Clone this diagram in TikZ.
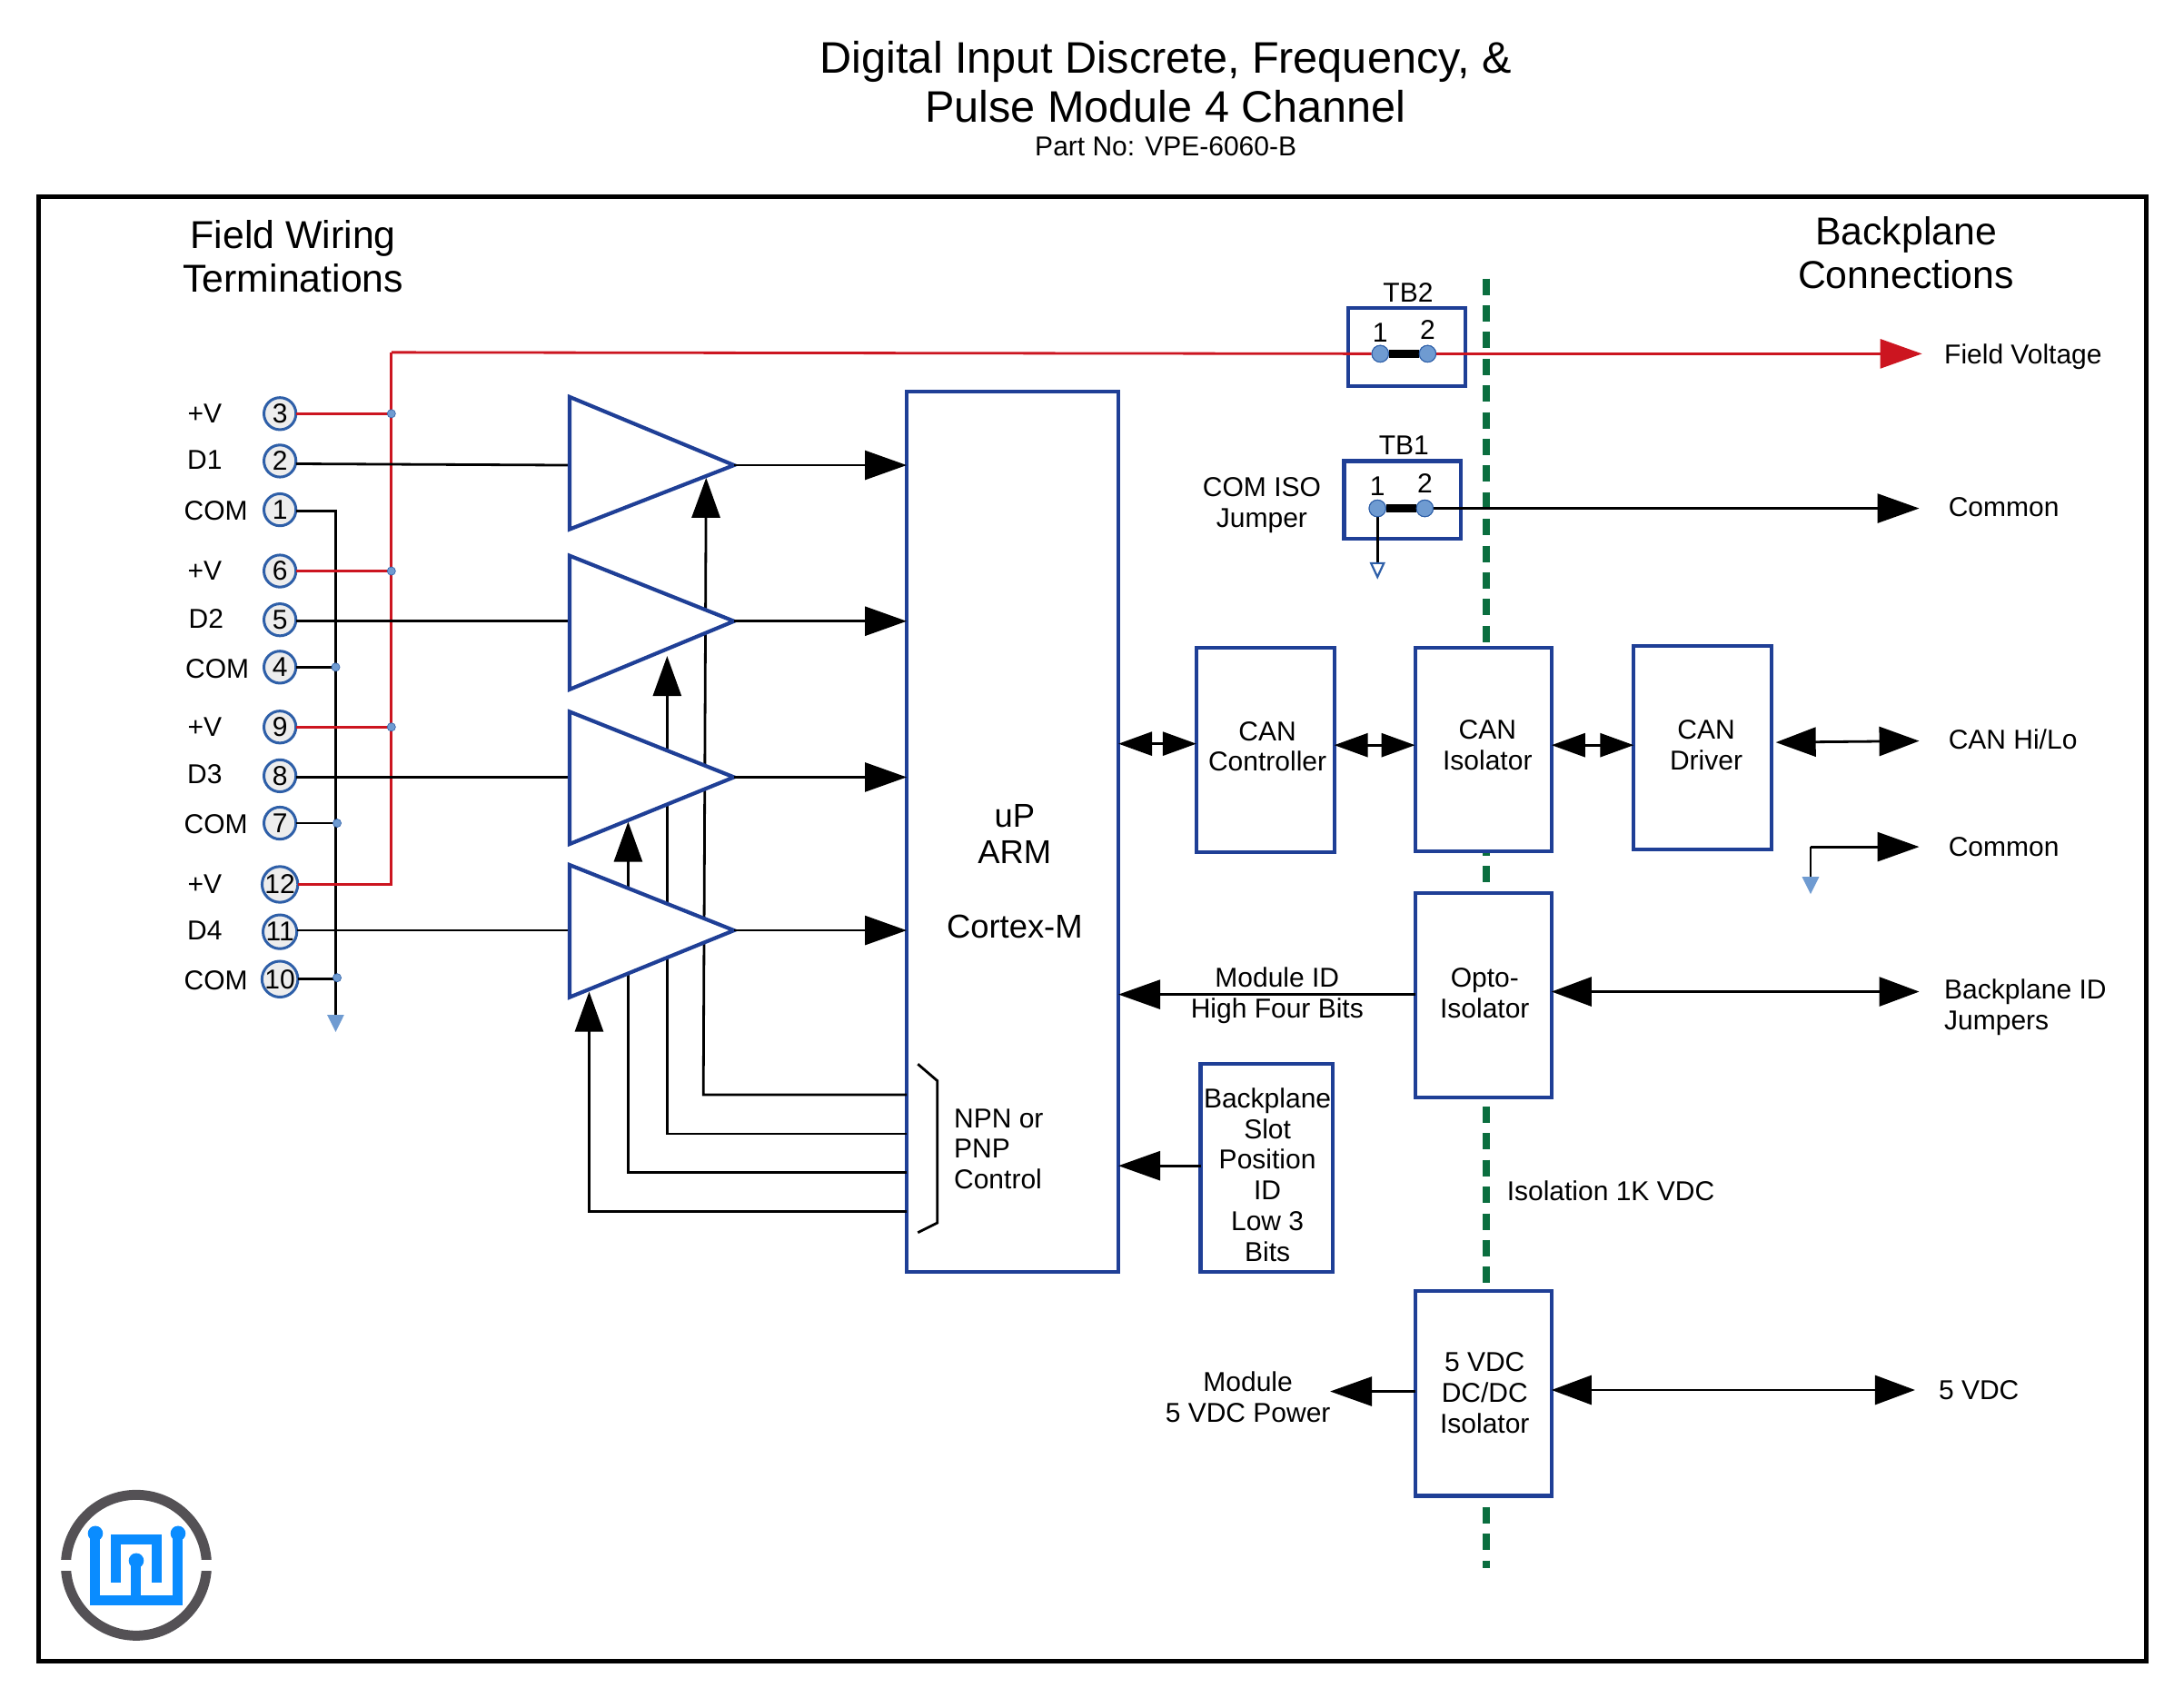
\documentclass[tikz,border=0pt]{standalone}
\usepackage{fontspec}
\setmainfont{Liberation Sans}
\usetikzlibrary{arrows.meta,calc}
\definecolor{bxblue}{HTML}{1F3F96}
\definecolor{ringblue}{HTML}{2E5FA8}
\definecolor{dotblue}{HTML}{6F9BD1}
\definecolor{wirered}{HTML}{CC1520}
\definecolor{isogreen}{HTML}{0B6E3F}
\definecolor{logogray}{HTML}{545155}
\definecolor{logoblue}{HTML}{0A8CFF}
\def\uu{0.7666pt}
\newcommand{\bxat}[5]{\node[bx,minimum width={(#4-#2)*\uu},minimum height={(#5-#3)*\uu}] (#1) at ({(#2+#4)/2},{(#3+#5)/2}) {};}
\tikzset{
  fsn/.style={font=\fontsize{15pt}{16.9pt}\selectfont},
  lbl/.style={inner sep=0pt,outer sep=0pt,align=center,fsn},
  lbll/.style={inner sep=0pt,outer sep=0pt,align=left,anchor=west,fsn},
  bx/.style={draw=bxblue,fill=white,line width=2.1pt,inner sep=0pt,outer sep=0pt,rectangle},
  amp/.style={draw=bxblue,fill=white,line width=2.1pt,line join=miter},
  termc/.style={circle,draw=ringblue,fill=black!7,line width=1.5pt,minimum size={23*\uu},inner sep=0pt,outer sep=0pt,fsn},
  dotb/.style={circle,fill=dotblue,draw=ringblue,line width=0.3pt,minimum size={6*\uu},inner sep=0pt},
  jdot/.style={circle,fill=dotblue,draw=ringblue,line width=0.5pt,minimum size={12*\uu},inner sep=0pt},
  wire/.style={black,line width=1.4pt},
  redw/.style={wirered,line width=1.4pt},
  bighead/.style={-{Triangle[length=23pt,width=16pt]}},
  dblhead/.style={{Triangle[length=22pt,width=16pt]}-{Triangle[length=22pt,width=16pt]}},
  smdbl/.style={{Triangle[length=18.5pt,width=13pt]}-{Triangle[length=18.5pt,width=13pt]}},
  ctl/.style={-{Triangle[length=22pt,width=15.5pt]}},
  gndhead/.style={-{Triangle[length=9.5pt,width=9pt,color=dotblue,fill=dotblue]}},
  cpufont/.style={font=\fontsize{18.2pt}{20pt}\selectfont},
  headfont/.style={font=\fontsize{21.4pt}{23.8pt}\selectfont},
}
\begin{document}
\begin{tikzpicture}[x=0.7666pt,y=-0.7666pt]
\useasboundingbox (0,0) rectangle (1568.1,1211.9);
\fill[white] (0,0) rectangle (1568.1,1211.9);
% frame
\node[draw=black,line width=2.5pt,inner sep=0pt,outer sep=0pt,minimum width={1513*\uu},minimum height={1052*\uu}] (frame) at (784.5,667) {};
% titles
\node[inner sep=0pt,align=center,font=\fontsize{24.3pt}{27pt}\selectfont] (title) at (837,58.5) {Digital Input Discrete, Frequency, \&\\Pulse Module 4 Channel};
\node[lbl] (part) at (837,105) {Part No: VPE-6060-B};
\node[inner sep=0pt,align=center,headfont] (fw) at (210.5,184) {Field Wiring\\Terminations};
\node[inner sep=0pt,align=center,headfont] (bc) at (1368.5,181.5) {Backplane\\Connections};
% isolation barrier
\coordinate (isotop) at (1067,200);
\coordinate (isobot) at (1067,1126);
\draw[isogreen,line width=3.8pt,dash pattern=on 9pt off 5.7pt] (isotop) -- (isobot);
% field side terminal rows
\node[termc] (t3) at (201,297) {3};
\node[termc] (t2) at (201,331) {2};
\node[termc] (t1) at (201,366) {1};
\node[termc] (t6) at (201,410) {6};
\node[termc] (t5) at (201,445) {5};
\node[termc] (t4) at (201,479) {4};
\node[termc] (t9) at (201,522) {9};
\node[termc] (t8) at (201,557) {8};
\node[termc] (t7) at (201,591) {7};
\node[termc] (t12) at (201,635) {12};
\node[termc] (t11) at (201,669) {11};
\node[termc] (t10) at (201,703) {10};
\node[lbl] (lv1) at (147,297) {+V};
\node[lbl] (ld1) at (147,330) {D1};
\node[lbl] (lc1) at (155,367) {COM};
\node[lbl] (lv2) at (147,410) {+V};
\node[lbl] (ld2) at (148,444) {D2};
\node[lbl] (lc2) at (156,480) {COM};
\node[lbl] (lv3) at (147,522) {+V};
\node[lbl] (ld3) at (147,556) {D3};
\node[lbl] (lc3) at (155,592) {COM};
\node[lbl] (lv4) at (147,635) {+V};
\node[lbl] (ld4) at (147,668) {D4};
\node[lbl] (lc4) at (155,704) {COM};
% coordinates
\coordinate (combus) at (241,367);
\coordinate (comend) at (241,741);
\coordinate (redbus) at (281,253);
\coordinate (redbot) at (281,635);
\coordinate (a1t) at (409,285); \coordinate (a1tip) at (527,334); \coordinate (a1b) at (409,380);
\coordinate (a2t) at (409,399); \coordinate (a2tip) at (527,446); \coordinate (a2b) at (409,495);
\coordinate (a3t) at (409,511); \coordinate (a3tip) at (527,558); \coordinate (a3b) at (409,606);
\coordinate (a4t) at (409,621); \coordinate (a4tip) at (527,668); \coordinate (a4b) at (409,716);
% boxes
\bxat{cpu}{651}{281}{803}{913}
\bxat{canc}{859}{465}{958}{612}
\bxat{cani}{1016}{465}{1114}{611}
\bxat{cand}{1173}{464}{1272}{610}
\bxat{opto}{1016}{641}{1114}{788}
\bxat{slot}{862}{764}{957}{913}
\bxat{dcdc}{1016}{927}{1114}{1074}
\bxat{tb2}{968}{221}{1052}{277}
\bxat{tb1}{965}{331}{1049}{387}
% common bus and red bus
\draw[wire] (t1.east |- combus) -- (combus) -- (comend |- t10) ;
\draw[wire,gndhead] (comend |- t10) -- (comend);
\draw[wire] (t4.east) -- (t4.east -| combus);
\draw[wire] (t7.east) -- (242,591);
\draw[wire] (t10.east) -- (242,703);
\draw[redw] (t3.east) -- (t3.east -| redbus);
\draw[redw] (t6.east) -- (t6.east -| redbus);
\draw[redw] (t9.east) -- (t9.east -| redbus);
\draw[redw] (t12.east) -- (redbot) -- (redbus);
% signal wires
\draw[wire] (t2.east |- 0,333) -- (a1b |- a1tip);
\draw[wire] (t5.east |- a2tip) -- (a2b |- a2tip);
\draw[wire] (t8.east |- a3tip) -- (a3b |- a3tip);
\draw[wire] (t11.east |- a4tip) -- (a4b |- a4tip);
% control lines
\draw[wire,ctl] (cpu.west |- 0,786) -- (505,786) -- (507,343);
\draw[wire,ctl] (cpu.west |- 0,814) -- (479,814) -- (479,471);
\draw[wire,ctl] (cpu.west |- 0,842) -- (451,842) -- (451,590);
\draw[wire,ctl] (cpu.west |- 0,870) -- (423,870) -- (423,712);
% amplifiers
\draw[amp] (a1t) -- (a1tip) -- (a1b) -- cycle;
\draw[amp] (a2t) -- (a2tip) -- (a2b) -- cycle;
\draw[amp] (a3t) -- (a3tip) -- (a3b) -- cycle;
\draw[amp] (a4t) -- (a4tip) -- (a4b) -- cycle;
\draw[wire,bighead] (a1tip) -- (cpu.west |- a1tip);
\draw[wire,bighead] (a2tip) -- (cpu.west |- a2tip);
\draw[wire,bighead] (a3tip) -- (cpu.west |- a3tip);
\draw[wire,bighead] (a4tip) -- (cpu.west |- a4tip);
% junction dots
\node[dotb] (d1) at (281,297) {};
\node[dotb] (d2) at (281,410) {};
\node[dotb] (d3) at (281,522) {};
\node[dotb] (d4) at (241,479) {};
\node[dotb] (d5) at (242,591) {};
\node[dotb] (d6) at (242,702) {};
% cpu text
\node[lbl,cpufont] (up) at (728.5,586) {uP};
\node[lbl,cpufont] (arm) at (728.5,612) {ARM};
\node[lbl,cpufont] (cortex) at (728.5,665) {Cortex-M};
\draw[black,line width=1.4pt] (659,764) -- (673,776) -- (673,878) -- (659,885);
\node[lbll] (npn) at (685,825) {NPN or\\PNP\\Control};
% box texts
\node[lbl] (tcanc) at (910,536) {CAN\\Controller};
\node[lbl] (tcani) at (1068,535) {CAN\\Isolator};
\node[lbl] (tcand) at (1225,535) {CAN\\Driver};
\node[lbl] (topto) at (1066,713) {Opto-\\Isolator};
\node[lbl] (tslot) at (910,843.5) {Backplane\\Slot\\Position\\ID\\Low 3\\Bits};
\node[lbl] (tdc) at (1066,1000) {5 VDC\\DC/DC\\Isolator};
% TB
\node[lbl] (tb2l) at (1011,210) {TB2};
\node[lbl] (tb1l) at (1008,320) {TB1};
\node[lbl] (tb21) at (991,239) {1};
\node[lbl] (tb22) at (1025,237) {2};
\node[lbl] (tb11) at (989,349) {1};
\node[lbl] (tb12) at (1023,347) {2};
\node[lbl] (comiso) at (906,363) {COM ISO\\Jumper};
\node[jdot] (j21) at (991,254) {};
\node[jdot] (j22) at (1025,254) {};
\node[jdot] (j11) at (989,365) {};
\node[jdot] (j12) at (1023,365) {};
\coordinate (fv) at (1380,254);
\coordinate (com1) at (1378,365);
\draw[redw] (redbus) -- (j21.west);
\draw[redw,-{Triangle[length=23pt,width=16pt,color=wirered,fill=wirered]}] (j22.east) -- (fv);
\draw[black,line width=4.5pt] (j21) -- (j22);
\draw[black,line width=4.5pt] (j11) -- (j12);
\draw[wire,bighead] (j12.east) -- (com1);
\coordinate (isognd) at (989,416);
\draw[wire,-{Triangle[length=9.5pt,width=8.5pt,color=ringblue,fill=white,line width=1.1pt]}] (j11) -- (isognd);
\node[jdot] at (j11) {};
\node[jdot] at (j21) {};
\node[jdot] at (j22) {};
\node[jdot] at (j12) {};
% CAN chain
\draw[wire,smdbl] (cpu.east |- 0,534) -- (canc.west |- 0,534);
\draw[wire,smdbl] (canc.east |- 0,535) -- (cani.west |- 0,535);
\draw[wire,smdbl] (cani.east |- 0,535) -- (cand.west |- 0,535);
\coordinate (canout) at (1378,532);
\draw[wire,dblhead] (1275,533) -- (canout);
\coordinate (com2) at (1378,608);
\coordinate (com2c) at (1300,608);
\coordinate (com2g) at (1300,642);
\draw[wire,bighead] (com2c) -- (com2);
\draw[wire,gndhead] (com2c) -- (com2g);
% opto and power
\coordinate (bid) at (1378,712);
\draw[wire,dblhead] (opto.east |- bid) -- (bid);
\draw[wire,bighead] (opto.west |- 0,714) -- (cpu.east |- 0,714);
\draw[wire,bighead] (slot.west |- 0,837) -- (cpu.east |- 0,837);
\coordinate (v5) at (1375,998);
\coordinate (mod5) at (955,999);
\draw[wire,dblhead] (dcdc.east |- v5) -- (v5);
\draw[wire,bighead] (dcdc.west |- mod5) -- (mod5);
% labels right
\node[lbl] (mid) at (917,702) {Module ID};
\node[lbl] (hfb) at (917,726) {High Four Bits};
\node[lbl] (m5) at (896,1003) {Module\\5 VDC Power};
\node[lbll] (iso) at (1082,855) {Isolation 1K VDC};
\node[lbll] (lfv) at (1396,256) {Field Voltage};
\node[lbll] (lcom) at (1399,364) {Common};
\node[lbll] (lcan) at (1399,531) {CAN Hi/Lo};
\node[lbll] (lcom2) at (1399,608) {Common};
\node[lbll] (lbp) at (1396,723) {Backplane ID\\Jumpers};
\node[lbll] (l5v) at (1392,998) {5 VDC};
% logo (reference pixels)
\begin{scope}[x=0.5pt,y=-0.5pt]
\draw[logogray,line width=5.5pt] (150,1723) circle (77.5);
\fill[white] (60,1717) rectangle (240,1729);
\draw[logoblue,line width=5.5pt,line join=miter] (105,1688) -- (105,1761.5) -- (196,1761.5) -- (196,1688);
\draw[logoblue,line width=5.5pt] (150,1761.5) -- (150,1718);
\draw[logoblue,line width=5.5pt,line join=miter] (127.7,1741.7) -- (127.7,1694.3) -- (172.7,1694.3) -- (172.7,1741.7);
\fill[logoblue] (105,1688) circle (8.3) (196,1688) circle (8.3) (150,1718) circle (8.3);
\end{scope}
\end{tikzpicture}
\end{document}
